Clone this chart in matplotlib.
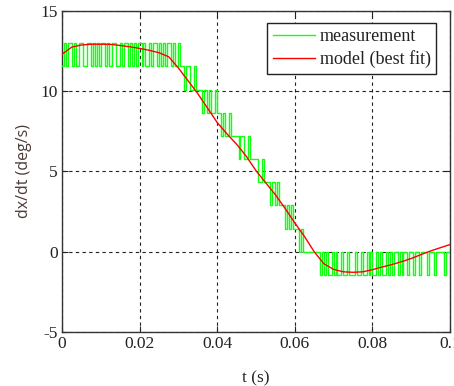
import numpy as np
import matplotlib
matplotlib.use("Agg")
import matplotlib.pyplot as plt

# Sampled velocity: quantisation step (deg/s), sample period (s) and level counts
quant_step = 1.443
sample_dt = 0.0005
meas_counts = [
    8, 9, 8, 9, 9, 8, 9, 8, 8, 9, 9, 8, 8, 9, 9, 8, 9, 8, 9, 8,
    9, 9, 8, 9, 8, 8, 9, 9, 8, 8, 9, 8, 9, 9, 8, 9, 8, 9, 8, 9,
    9, 8, 9, 8, 8, 9, 8, 9, 9, 8, 9, 8, 9, 8, 9, 9, 8, 9, 8, 8,
    9, 8, 8, 7, 8, 8, 7, 7, 8, 7, 7, 7, 6, 7, 7, 6, 7, 6, 6, 7,
    6, 6, 5, 6, 5, 5, 6, 5, 5, 5, 5, 4, 5, 5, 4, 4, 5, 4, 4, 4,
    4, 3, 3, 4, 3, 3, 3, 2, 3, 3, 2, 3, 2, 2, 2, 1, 2, 1, 2, 1,
    1, 1, 0, 1, 0, 0, 0, 0, 0, 0, 0, 0, 0, -1, 0, -1, 0, -1, -1, 0,
    -1, 0, -1, -1, 0, -1, -1, 0, -1, -1, -1, 0, -1, -1, 0, -1, -1, 0, -1, 0,
    -1, -1, 0, -1, 0, -1, -1, 0, -1, 0, -1, 0, 0, -1, 0, -1, 0, 0, -1, 0,
    0, -1, 0, 0, -1, 0, 0, 0, -1, 0, 0, 0, -1, 0, 0, 0, 0, -1, 0, 0, 0,
]

# Best-fit model velocity
model_t = [
    0.000, 0.0025, 0.005, 0.0075, 0.010, 0.0125, 0.015, 0.0175, 0.020, 0.0225,
    0.025, 0.0275, 0.030, 0.0325, 0.035, 0.0375, 0.040, 0.0425, 0.045, 0.0475,
    0.050, 0.0525, 0.055, 0.0575, 0.060, 0.0625, 0.065, 0.0675, 0.070, 0.0725,
    0.075, 0.0775, 0.080, 0.0825, 0.085, 0.0875, 0.090, 0.0925, 0.095, 0.0975,
    0.100,
]
model_v = [
    12.30, 12.75, 12.88, 12.93, 12.93, 12.92, 12.85, 12.77, 12.67, 12.55,
    12.40, 12.15, 11.45, 10.65, 9.85, 8.95, 8.05, 7.35, 6.70, 5.95,
    5.05, 4.30, 3.55, 2.70, 1.80, 0.95, 0.00, -0.75, -1.10, -1.25,
    -1.28, -1.25, -1.12, -0.95, -0.80, -0.62, -0.42, -0.18, 0.05, 0.25,
    0.45,
]

x_ticks = [0, 0.02, 0.04, 0.06, 0.08, 0.1]
x_tick_labels = ["0", "0.02", "0.04", "0.06", "0.08", "0.1"]
y_ticks = [-5, 0, 5, 10, 15]
y_tick_labels = ["-5", "0", "5", "10", "15"]

meas_t = np.arange(len(meas_counts)) * sample_dt
meas_v = np.array(meas_counts) * quant_step

plt.rcParams["font.family"] = ["Liberation Serif", "DejaVu Serif"]

fig = plt.figure(figsize=(4.54, 3.86), dpi=100)
ax = fig.add_axes([62 / 454, 1 - 332 / 386, 388 / 454, 321 / 386])

ax.step(meas_t, meas_v, where="post", color="#11ff11", lw=1.0,
        label="measurement", zorder=3)
ax.plot(model_t, model_v, color="#ff0000", lw=1.0,
        label="model (best fit)", zorder=4)

ax.set_xlim(0, 0.1)
ax.set_ylim(-5, 15)
ax.set_xticks(x_ticks)
ax.set_xticklabels(x_tick_labels)
ax.set_yticks(y_ticks)
ax.set_yticklabels(y_tick_labels)
ax.tick_params(direction="in", length=4, width=0.8, top=True, right=True,
               labelsize=12.5, colors="#222222", pad=3)
ax.grid(True, color="#222222", linestyle=(0, (3, 3)), linewidth=0.8)
for s in ax.spines.values():
    s.set_color("#333333")
    s.set_linewidth(1.0)

ax.set_xlabel("t (s)", fontsize=12.5, color="#222222", labelpad=13)
ax.set_ylabel("dx/dt (deg/s)", fontsize=11.5, color="#4a3c36",
              family=["Open Sans", "DejaVu Sans"], labelpad=6)

leg = ax.legend(loc="upper right", bbox_to_anchor=(0.964, 0.964),
                borderaxespad=0, fontsize=13, handlelength=2.35,
                handletextpad=0.25, labelspacing=0.3, borderpad=0.3,
                fancybox=False, framealpha=1, edgecolor="#222222")
leg.get_frame().set_linewidth(1.0)
for txt in leg.get_texts():
    txt.set_color("#222222")

fig.savefig("out.png", dpi=100)
